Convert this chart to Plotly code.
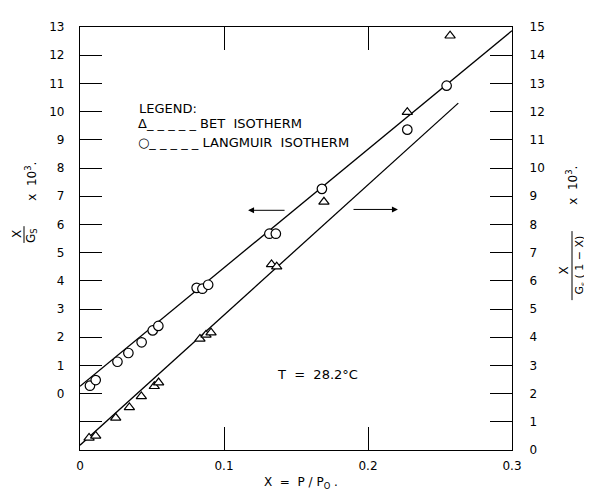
import plotly.graph_objects as go

# ---------------- data ----------------
# Langmuir isotherm (circles) -> left axis  X/Gs x 10^3
lang_x = [0.0069, 0.0109, 0.026, 0.0336, 0.0428, 0.0505, 0.0544,
          0.081, 0.085, 0.089, 0.1315, 0.136, 0.168, 0.2273, 0.2546]
lang_y = [0.28, 0.48, 1.13, 1.44, 1.82, 2.24, 2.40,
          3.75, 3.72, 3.86, 5.67, 5.67, 7.26, 9.36, 10.92]

# BET isotherm (triangles) -> right axis  X/(Gs(1-X)) x 10^3
bet_x = [0.0063, 0.0109, 0.0248, 0.0343, 0.0426, 0.0516, 0.0546,
         0.0833, 0.0875, 0.091, 0.133, 0.1366, 0.1694, 0.2273, 0.257]
bet_y = [0.43, 0.50, 1.14, 1.51, 1.90, 2.26, 2.39,
         3.94, 4.08, 4.16, 6.58, 6.50, 8.80, 11.98, 14.69]

# fitted straight lines
lang_fit_x = [0.0, 0.3]
lang_fit_y = [0.26, 12.87]
bet_fit_x = [0.0, 0.2627]
bet_fit_y = [0.17, 12.30]

x_ticks = [0, 0.1, 0.2, 0.3]
x_tick_labels = ["0", "0.1", "0.2", "0.3"]
left_ticks = list(range(0, 14))
left_tick_labels = [str(v) for v in left_ticks]
right_ticks = list(range(0, 16))
right_tick_labels = [str(v) for v in right_ticks]

# arrows: (tail x, head x, y)
left_arrow = (0.1431, 0.1167, 6.50)     # left axis
right_arrow = (0.1889, 0.2208, 8.53)    # right axis

FONT = "DejaVu Sans"
INK = "black"

fig = go.Figure()

fig.add_trace(go.Scatter(x=lang_fit_x, y=lang_fit_y, mode="lines",
                         line=dict(color=INK, width=1.3), showlegend=False))
fig.add_trace(go.Scatter(x=bet_fit_x, y=bet_fit_y, mode="lines", yaxis="y2",
                         line=dict(color=INK, width=1.3), showlegend=False))
fig.add_trace(go.Scatter(x=lang_x, y=lang_y, mode="markers",
                         marker=dict(symbol="circle", size=9.5, color="white",
                                     line=dict(color=INK, width=1.2)),
                         showlegend=False))
fig.add_trace(go.Scatter(x=bet_x, y=bet_y, mode="markers", yaxis="y2",
                         marker=dict(symbol="triangle-up", size=9, color="white",
                                     line=dict(color=INK, width=1.2)),
                         showlegend=False))

# page has an 8px body margin: the figure is drawn 8px in from top-left
OFF = 8
W, H = 592 - OFF, 493 - OFF
L, R, T, B = 80, 512, 21, 450   # plot frame in window pixels


def px(xp):
    return (xp - L) / (R - L)


def py(yp):
    return (B - yp) / (B - T)


ann = []


def text(x, y, s, size=12, angle=0, xanchor="center", yanchor="middle"):
    ann.append(dict(x=px(x), y=py(y), xref="paper", yref="paper", text=s,
                    showarrow=False, textangle=angle, xanchor=xanchor,
                    yanchor=yanchor, font=dict(family=FONT, size=size, color=INK)))


# legend block
text(137, 104, "LEGEND:", size=13, xanchor="left")
text(136, 119, "Δ_ _ _ _ _ BET  ISOTHERM", size=13, xanchor="left")
text(136, 138, "○_ _ _ _ _ LANGMUIR  ISOTHERM", size=13, xanchor="left")
text(275, 373, "T  =  28.2°C", size=13, xanchor="left")
text(301, 483, "X  =  P / P<sub>O</sub> .", size=12)

# left axis title (rotated fraction)
text(17, 231, "X", angle=-90)
text(32, 233, "G<sub>S</sub>", angle=-90)
text(31, 178, "x  10<sup>3</sup>.", angle=-90)
# right axis title
text(564, 268, "X", angle=-90)
text(580, 263, "G<sub>s</sub> ( 1 − X)", angle=-90, size=11)
text(572, 182, "x  10<sup>3</sup>.", angle=-90)

# arrows
ann.append(dict(x=left_arrow[1], y=left_arrow[2], ax=left_arrow[0], ay=left_arrow[2],
                xref="x", yref="y", axref="x", ayref="y", showarrow=True,
                arrowhead=2, arrowsize=1.2, arrowwidth=1, arrowcolor=INK, text=""))
ann.append(dict(x=right_arrow[1], y=right_arrow[2], ax=right_arrow[0], ay=right_arrow[2],
                xref="x", yref="y2", axref="x", ayref="y2", showarrow=True,
                arrowhead=2, arrowsize=1.2, arrowwidth=1, arrowcolor=INK, text=""))

shapes = [
    dict(type="line", xref="paper", yref="paper", x0=px(24), x1=px(24),
         y0=py(223), y1=py(240), line=dict(color=INK, width=1)),
    dict(type="line", xref="paper", yref="paper", x0=px(572), x1=px(572),
         y0=py(228), y1=py(298), line=dict(color=INK, width=1)),
]

fig.update_layout(
    width=W, height=H,
    margin=dict(l=L - OFF, r=592 - R, t=T - OFF, b=493 - B),
    paper_bgcolor="white", plot_bgcolor="white",
    font=dict(family=FONT, size=12, color=INK),
    xaxis=dict(range=[0, 0.3], tickvals=x_ticks, ticktext=x_tick_labels,
               ticks="inside", ticklen=23, tickwidth=1, tickcolor=INK,
               showline=True, linecolor=INK, linewidth=1.3, mirror="ticks",
               showgrid=False, zeroline=False, ticklabelstandoff=4,
               tickfont=dict(family=FONT, size=12, color=INK)),
    yaxis=dict(range=[-2, 13], tickvals=left_ticks, ticktext=left_tick_labels,
               ticks="inside", ticklen=22, tickwidth=1, tickcolor=INK,
               minor=dict(ticks="inside", ticklen=22, tickwidth=1, tickcolor=INK,
                          tick0=0, dtick=1, showgrid=False),
               showline=True, linecolor=INK, linewidth=1.3,
               showgrid=False, zeroline=False, ticklabelstandoff=12,
               tickfont=dict(family=FONT, size=12, color=INK)),
    yaxis2=dict(range=[0, 15], tickvals=right_ticks, ticktext=right_tick_labels,
                overlaying="y", side="right", anchor="x",
                ticks="inside", ticklen=22, tickwidth=1, tickcolor=INK,
                showline=True, linecolor=INK, linewidth=1.3,
                showgrid=False, zeroline=False, ticklabelstandoff=14,
                tickfont=dict(family=FONT, size=12, color=INK)),
    annotations=ann,
    shapes=shapes,
    showlegend=False,
)

fig.write_html("out.html")
